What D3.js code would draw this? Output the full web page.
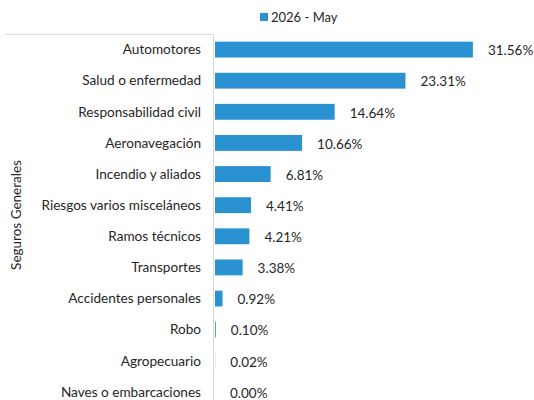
<!DOCTYPE html>
<html>
<head>
<meta charset="utf-8">
<script src="https://cdn.jsdelivr.net/npm/d3@7"></script>
<style>
  body { margin: 0; background: #fff; }
  text { font-family: Lato, "Noto Sans", sans-serif; fill: #262626; }
</style>
</head>
<body>
<script>
// data
const categories = ["Automotores", "Salud o enfermedad", "Responsabilidad civil", "Aeronavegación",
  "Incendio y aliados", "Riesgos varios misceláneos", "Ramos técnicos", "Transportes",
  "Accidentes personales", "Robo", "Agropecuario", "Naves o embarcaciones"];
const values = [31.56, 23.31, 14.64, 10.66, 6.81, 4.41, 4.21, 3.38, 0.92, 0.10, 0.02, 0.00];
const seriesName = "2026 - May";
const groupName = "Seguros Generales";

const svg = d3.select("body").append("svg")
    .attr("width", 534)
    .attr("height", 400);

const x = d3.scaleLinear().domain([0, 35]).range([215, 501]);
const y = d3.scaleBand().domain(categories).range([34, 407.5]).paddingInner(0.49).paddingOuter(0.245);

// bracket lines
svg.append("line")
    .attr("x1", 5).attr("x2", 214).attr("y1", 34.5).attr("y2", 34.5)
    .attr("stroke", "#d9d9d9");
svg.append("line")
    .attr("x1", 213.5).attr("x2", 213.5).attr("y1", 34).attr("y2", 400)
    .attr("stroke", "#d9d9d9");

// bars
svg.selectAll("rect.bar")
    .data(values)
    .enter()
    .append("rect")
    .attr("class", "bar")
    .attr("x", x(0))
    .attr("y", (d, i) => y(categories[i]))
    .attr("width", d => x(d) - x(0))
    .attr("height", y.bandwidth())
    .attr("fill", "#2b92d2");

// value labels
svg.selectAll("text.val")
    .data(values)
    .enter()
    .append("text")
    .attr("class", "val")
    .attr("x", d => x(d) + 15)
    .attr("y", (d, i) => y(categories[i]) + y.bandwidth() / 2 + 1)
    .attr("dy", "0.35em")
    .style("font-size", "13.5px")
    .text(d => d.toFixed(2) + "%");

// category labels
svg.selectAll("text.cat")
    .data(categories)
    .enter()
    .append("text")
    .attr("class", "cat")
    .attr("x", 201)
    .attr("y", d => y(d) + y.bandwidth() / 2)
    .attr("dy", "0.35em")
    .attr("text-anchor", "end")
    .style("font-size", "13.6px")
    .text(d => d);

// group label
svg.append("text")
    .attr("transform", "translate(21,215) rotate(-90)")
    .attr("text-anchor", "middle")
    .style("font-size", "13.5px")
    .text(groupName);

// legend
svg.append("rect")
    .attr("x", 260).attr("y", 13).attr("width", 8).attr("height", 8)
    .attr("fill", "#2b92d2");
svg.append("text")
    .attr("x", 271).attr("y", 17)
    .attr("dy", "0.35em")
    .style("font-size", "13px")
    .text(seriesName);
</script>
</body>
</html>
